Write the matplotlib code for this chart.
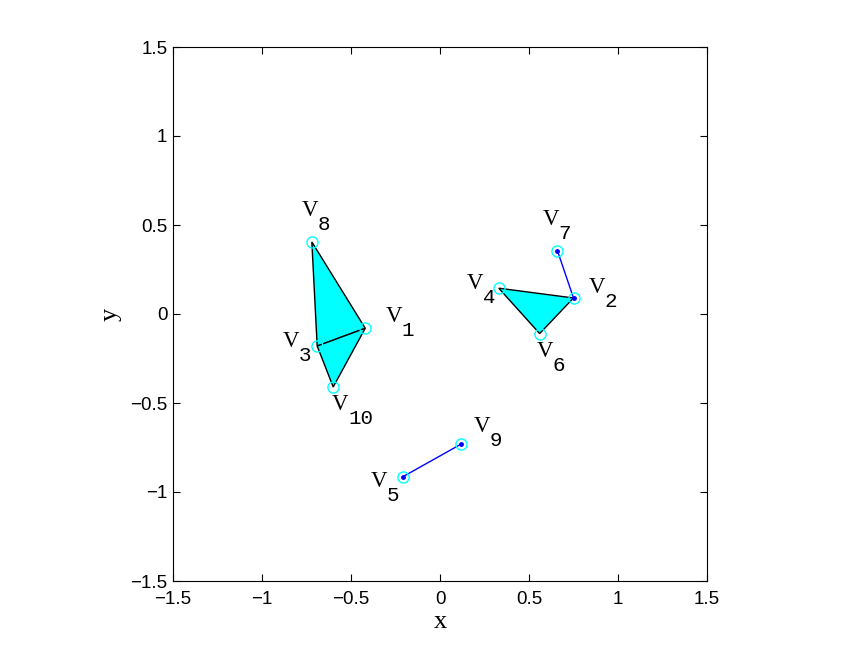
import matplotlib
matplotlib.use('Agg')
import matplotlib.pyplot as plt
import numpy as np

mono = ['Liberation Mono', 'Courier New', 'DejaVu Sans Mono']
serif = ['Liberation Serif', 'Times New Roman', 'DejaVu Serif']
sans = ['Liberation Sans', 'Arial', 'DejaVu Sans']

# vertex coordinates (V1 .. V10)
vx = [-0.42, 0.75, -0.69, 0.33, -0.21, 0.56, 0.66, -0.72, 0.12, -0.60]
vy = [-0.08, 0.09, -0.18, 0.145, -0.915, -0.11, 0.355, 0.405, -0.73, -0.41]

# filled triangles and plain edges (1-based vertex numbers)
triangles = [(8, 1, 3), (3, 1, 10), (4, 2, 6)]
edges = [(7, 2), (5, 9)]

ticks = [-1.5, -1, -0.5, 0, 0.5, 1, 1.5]
tick_labels = ['\u22121.5', '\u22121', '\u22120.5', '0', '0.5', '1', '1.5']

# label offsets in pixels (left edge / baseline of the "V")
label_off = {1: (20, 6), 2: (15, 5), 3: (-34, -1), 4: (-32, -1), 5: (-32, -10),
             6: (-3, -23), 7: (-15, 26), 8: (-10, 26), 9: (12, 12), 10: (-1, -23)}

fig = plt.figure(figsize=(8.49, 6.54), dpi=100)
ax = fig.add_axes([173 / 849, 73 / 654, 534 / 849, 534 / 654])

for tri in triangles:
    xs = [vx[i - 1] for i in tri]
    ys = [vy[i - 1] for i in tri]
    ax.fill(xs, ys, facecolor='cyan', edgecolor='black', linewidth=1.0, zorder=2)

for a, b in edges:
    ax.plot([vx[a - 1], vx[b - 1]], [vy[a - 1], vy[b - 1]], color='blue',
            linewidth=1.0, marker='o', markersize=2.5, zorder=3)

ax.plot(vx, vy, linestyle='none', marker='o', markersize=8, markerfacecolor='none',
        markeredgecolor='cyan', markeredgewidth=1.0, zorder=4)

for i in range(len(vx)):
    n = i + 1
    dx, dy = label_off[n]
    ax.annotate('V', (vx[i], vy[i]), xytext=(dx, dy),
                textcoords='offset pixels', ha='left', va='baseline',
                fontsize=16.5, family=serif, zorder=5)
    ax.annotate(str(n), (vx[i], vy[i]), xytext=(dx + 16, dy - 14),
                textcoords='offset pixels', ha='left', va='baseline',
                fontsize=15, family=mono, zorder=5)

ax.set_xlim(-1.5, 1.5)
ax.set_ylim(-1.5, 1.5)
ax.set_xticks(ticks)
ax.set_yticks(ticks)
ax.set_xticklabels(tick_labels, family=sans, fontsize=13.5)
ax.set_yticklabels(tick_labels, family=sans, fontsize=13.5)
ax.tick_params(direction='in', top=True, right=True, length=5, width=0.8)
ax.tick_params(axis='x', pad=7)
ax.tick_params(axis='y', pad=4)
for s in ax.spines.values():
    s.set_linewidth(0.8)
ax.set_xlabel('x', family=serif, fontsize=19, labelpad=2)
ax.set_ylabel('y', family=serif, fontsize=19, labelpad=6)

fig.savefig('out.png', dpi=100)
